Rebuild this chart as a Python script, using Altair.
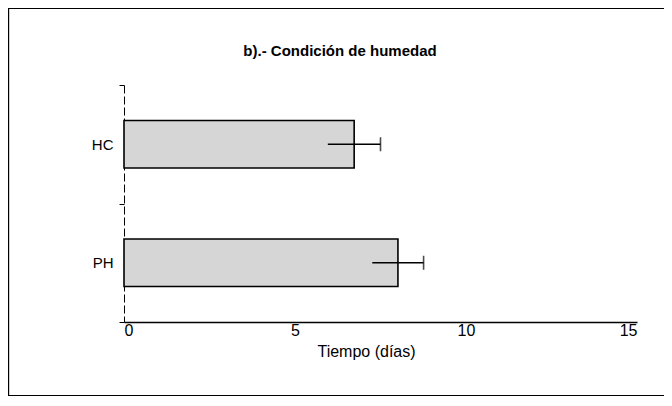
import altair as alt
import pandas as pd

categories = ["HC", "PH"]
means = [6.73, 8.01]
sds = [0.77, 0.75]
x_ticks = [0, 5, 10, 15]
title_text = ["b).- Condición de humedad"]

df = pd.DataFrame({
    "cond": categories,
    "mean": means,
    "lo": [m - s for m, s in zip(means, sds)],
    "hi": [m + s for m, s in zip(means, sds)],
})

FONT = "Liberation Sans"

y_enc = alt.Y(
    "cond:N",
    sort=categories,
    title=None,
    scale=alt.Scale(paddingInner=0, paddingOuter=0),
    axis=alt.Axis(
        tickBand="extent", tickSize=5, tickColor="black", tickWidth=1, grid=False,
        domainColor="black", domainWidth=1, domainDash=[8, 3],
        labelFont=FONT, labelFontSize=15, labelColor="black", labelPadding=6,
    ),
)

x_scale = alt.Scale(domain=[0, 15], nice=False)

bars = alt.Chart(df).mark_bar(
    height=alt.RelativeBandSize(0.4), fill="#d6d6d6", stroke="black", strokeWidth=1.6
).encode(
    x=alt.X(
        "mean:Q", scale=x_scale, title="Tiempo (días)",
        axis=alt.Axis(
            values=x_ticks, ticks=False, grid=False, domainColor="black", domainWidth=1.5,
            labelFont=FONT, labelFontSize=16, labelColor="black", labelPadding=0,
            titleFont=FONT, titleFontSize=16, titleFontWeight="normal", titleColor="black",
            titlePadding=5, titleX=242,
        ),
    ),
    y=y_enc,
)

err = alt.Chart(df).mark_rule(color="black", strokeWidth=1.6).encode(
    x=alt.X("lo:Q", scale=x_scale), x2="hi:Q", y=alt.Y("cond:N", sort=categories)
)

caps = alt.Chart(df).mark_tick(color="black", thickness=1.6, size=14, orient="vertical").encode(
    x=alt.X("hi:Q", scale=x_scale), y=alt.Y("cond:N", sort=categories)
)

frame = alt.Chart(df).mark_rect(fill=None, stroke="black", strokeWidth=1.2).encode(
    x=alt.value(-115.5), x2=alt.value(600), y=alt.value(-76.5), y2=alt.value(310.5)
)

title = alt.Chart(pd.DataFrame({"t": title_text})).mark_text(
    font=FONT, fontSize=15, fontWeight="bold", color="black", align="center", baseline="middle"
).encode(text="t:N", x=alt.value(216), y=alt.value(-34))

chart = alt.layer(frame, bars, err, caps, title).properties(
    width=513, height=237, background="white",
    autosize=alt.AutoSizeParams(type="none"),
    padding={"left": 116, "top": 77, "right": 27, "bottom": 75},
).configure_view(stroke=None, strokeWidth=0)

chart.save("out.html", embed_options={"renderer": "svg", "actions": False})
